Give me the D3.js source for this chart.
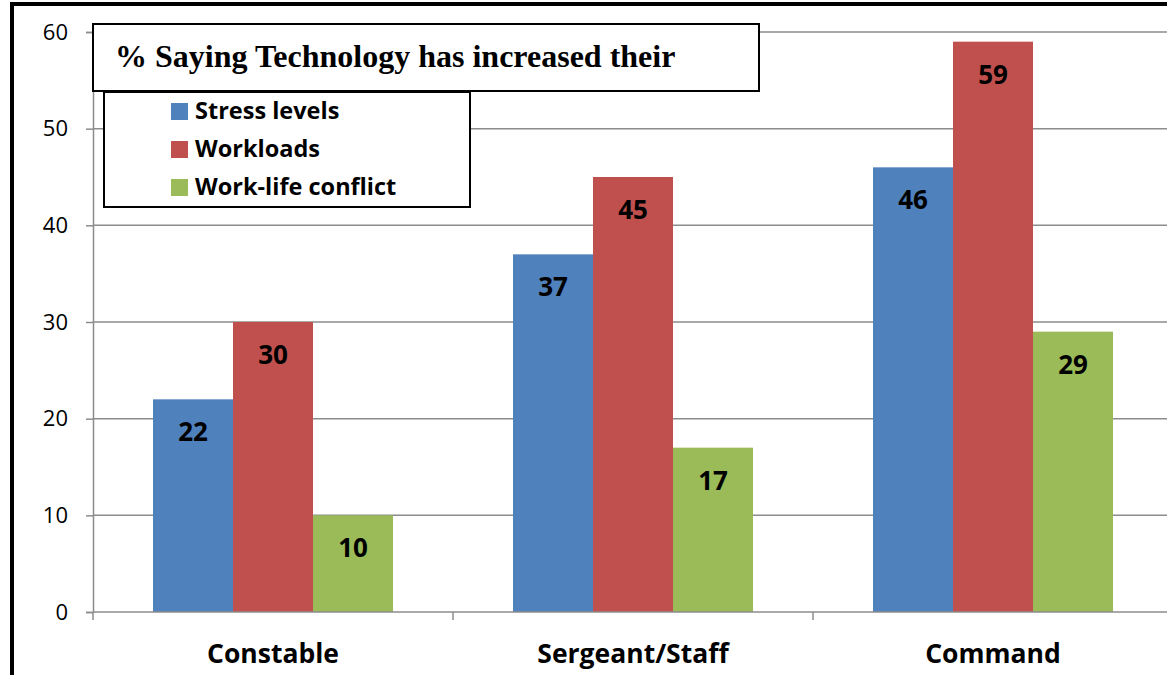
<!DOCTYPE html>
<html><head><meta charset="utf-8">
<script src="https://cdn.jsdelivr.net/npm/d3@7"></script>
<style>body{margin:0;background:#fff}svg{display:block}</style>
</head><body>
<script>
const categories = ["Constable", "Sergeant/Staff", "Command"];
const seriesNames = ["Stress levels", "Workloads", "Work-life conflict"];
const stress = [22, 37, 46];
const workloads = [30, 45, 59];
const workLife = [10, 17, 29];
const yTicks = [0, 10, 20, 30, 40, 50, 60];
const colors = ["#4F81BD", "#C0504D", "#9BBB59"];
const titleText = "% Saying Technology has increased their";

const series = [stress, workloads, workLife];
const W = 1167, H = 675;
const sans = "Open Sans, Liberation Sans, sans-serif";
const svg = d3.select("body").append("svg").attr("width", W).attr("height", H);

// outer frame
svg.append("line").attr("x1",12).attr("x2",12).attr("y1",2).attr("y2",H).attr("stroke","#000").attr("stroke-width",4);
svg.append("line").attr("x1",10).attr("x2",W).attr("y1",4).attr("y2",4).attr("stroke","#000").attr("stroke-width",4);

const x0 = 93, x1 = 1173;
const x = d3.scaleBand().domain(categories).range([x0, x1]);
const xs = d3.scaleBand().domain(d3.range(3)).range([60, 300]);
const y = d3.scaleLinear().domain([0, 60]).range([612, 32]);

// gridlines
svg.append("g").selectAll("line").data(yTicks.filter(d=>d>0)).join("line")
  .attr("x1", x0).attr("x2", W).attr("y1", d=>y(d)).attr("y2", d=>y(d))
  .attr("stroke", "#8c8c8c").attr("stroke-width", 1.5);

// y axis
const ya = svg.append("g").attr("transform", `translate(${x0},0)`)
  .call(d3.axisLeft(y).tickValues(yTicks).tickSize(7).tickPadding(18));
ya.attr("font-size", null).attr("font-family", null);
ya.select(".domain").attr("stroke", "#8c8c8c").attr("stroke-width", 1.5);
ya.selectAll(".tick line").attr("stroke", "#8c8c8c").attr("stroke-width", 1.5);
ya.selectAll(".tick text").attr("font-family", sans).attr("font-size", 22).attr("fill", "#000");

// bars
const g = svg.append("g");
categories.forEach((c, ci) => {
  series.forEach((s, si) => {
    const bx = x(c) + xs(si), bw = xs.bandwidth();
    g.append("rect").attr("x", bx).attr("y", y(s[ci])).attr("width", bw)
      .attr("height", y(0) - y(s[ci])).attr("fill", colors[si]);
    g.append("text").attr("x", bx + bw/2).attr("y", y(s[ci]) + 42)
      .attr("text-anchor", "middle").attr("font-family", sans)
      .attr("font-weight", "bold").attr("font-size", 26).attr("fill", "#000").text(s[ci]);
  });
});

// x axis
const xa = svg.append("g").attr("transform", `translate(0,${y(0)})`);
xa.append("line").attr("x1", x0).attr("x2", W).attr("stroke", "#8c8c8c").attr("stroke-width", 1.5);
xa.selectAll(".t").data([x0, x0+360, x0+720]).join("line")
  .attr("x1", d=>d).attr("x2", d=>d).attr("y1", 0).attr("y2", 8).attr("stroke", "#8c8c8c").attr("stroke-width", 1.5);
xa.selectAll("text").data(categories).join("text")
  .attr("x", d => x(d) + 180).attr("y", 51)
  .attr("text-anchor", "middle").attr("font-family", sans)
  .attr("font-weight", "bold").attr("font-size", 26.5).attr("fill", "#000").text(d => d);

// title box
svg.append("rect").attr("x", 93).attr("y", 24).attr("width", 666).attr("height", 67)
  .attr("fill", "#fff").attr("stroke", "#000").attr("stroke-width", 2);
svg.append("text").attr("x", 115).attr("y", 67).attr("font-family", "Liberation Serif, Times New Roman, serif")
  .attr("font-weight", "bold").attr("font-size", 32).attr("fill", "#000").text(titleText);

// legend box
svg.append("rect").attr("x", 104).attr("y", 92).attr("width", 366).attr("height", 115)
  .attr("fill", "#fff").attr("stroke", "#000").attr("stroke-width", 2);
const lg = svg.append("g");
seriesNames.forEach((n, i) => {
  const cy = 111 + i * 38;
  lg.append("rect").attr("x", 171).attr("y", cy - 8).attr("width", 17).attr("height", 17).attr("fill", colors[i]);
  lg.append("text").attr("x", 195).attr("y", cy + 8).attr("font-family", sans)
    .attr("font-weight", "bold").attr("font-size", 23.5).attr("fill", "#000").text(n);
});
</script>
</body></html>
